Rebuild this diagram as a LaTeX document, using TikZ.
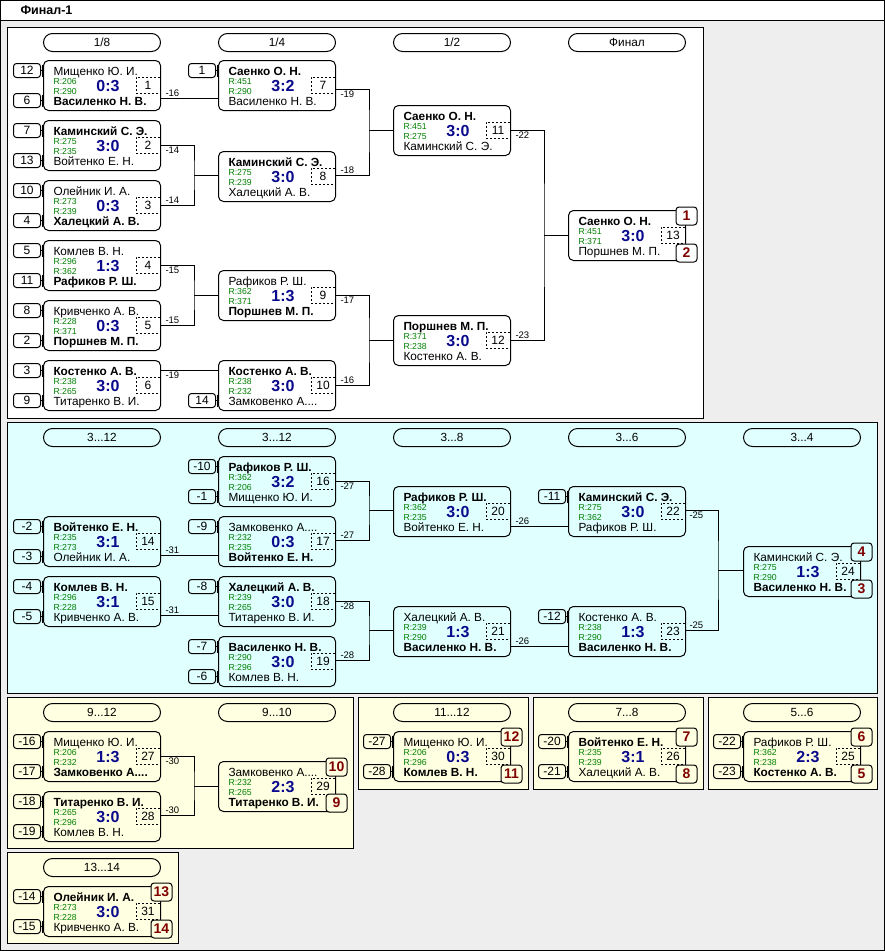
\documentclass[tikz,border=0pt]{standalone}
\usepackage{fontspec}
\setmainfont{Liberation Sans}
\definecolor{bgc}{RGB}{238,238,238}
\definecolor{cyanp}{RGB}{224,255,255}
\definecolor{yelp}{RGB}{255,255,225}
\definecolor{scorec}{RGB}{10,10,140}
\definecolor{rgreen}{RGB}{0,128,0}
\definecolor{placec}{RGB}{128,0,0}
\tikzset{
  mbox/.style={draw, rounded corners=5pt, minimum width=117pt, minimum height=50pt, anchor=north west, inner sep=0pt},
  nm/.style={anchor=base west, inner sep=0pt, font=\fontsize{11.8}{12}\selectfont},
  rv/.style={anchor=base west, inner sep=0pt, text=rgreen, font=\fontsize{8.7}{9}\selectfont},
  sc/.style={anchor=base, inner sep=0pt, text=scorec, font=\bfseries\fontsize{16}{16}\selectfont},
  mn/.style={draw, dash pattern=on 2pt off 2pt, line width=0.8pt, minimum width=24pt, minimum height=16pt, inner sep=0pt, font=\fontsize{12}{12}\selectfont},
  sdbox/.style={draw, rounded corners=3pt, anchor=north west, minimum width=27pt, minimum height=14pt, inner sep=0pt, font=\fontsize{12}{12}\selectfont},
  plbox/.style={draw, rounded corners=3pt, minimum width=21pt, minimum height=18pt, inner sep=0pt, text=placec, font=\bfseries\fontsize{14}{14}\selectfont},
  hdr/.style={draw, rounded corners=9pt, anchor=north west, minimum width=117pt, minimum height=18pt, inner sep=0pt, font=\fontsize{11.8}{12}\selectfont},
  lbl/.style={inner sep=0pt, font=\fontsize{9.5}{10}\selectfont},
  panel/.style={draw, line width=1pt},
}
\newcommand\mt[9]{%
\begin{scope}[shift={(#2,#3)}]
\node[mbox] (#1) at (0,0) {};
\node[nm] (#1-a) at (10,15.5) {#4};
\node[rv] (#1-r) at (10,24) {R:#5};
\node[rv] (#1-s) at (10,34) {R:#6};
\node[nm] (#1-b) at (10,45) {#8};
\node[sc] (#1-c) at (65,31) {#7};
\node[mn] (#1-n) at (105,25) {#9};
\end{scope}}
\newcommand\sd[4]{%
\node[sdbox] (#1) at (#2,#3) {#4};
\draw (#1.east) -- ++(1.5,0) ++(0,-6) -- ++(0,12);}
\newcommand\pc[5]{\node[plbox, fill=#5] (#1) at (#2,#3) {#4};}
\newcommand\hd[4]{\node[hdr] (#1) at (#2,#3) {#4};}
\newcommand\labA[4]{\node[lbl, anchor=south west] (#1) at (#2,#3) {#4};}
\newcommand\labB[4]{\node[lbl, anchor=north west] (#1) at (#2,#3) {#4};}
\begin{document}
\begin{tikzpicture}[x=1pt,y=-1pt,line width=1pt]
\useasboundingbox (0,0) rectangle (885,951);
\fill[bgc] (0,0) rectangle (885,951);
\fill[white] (0.5,0.5) rectangle (884.5,20);
\draw (0.5,0.5) rectangle (884.5,950.5);
\draw (0.5,20) -- (884.5,20);
\node[anchor=west, inner sep=0pt, font=\bfseries\fontsize{12.5}{13}\selectfont] (title) at (20,10) {Финал-1};
% panels
\filldraw[panel, fill=white] (7,27) rectangle (703,418);
\filldraw[panel, fill=cyanp] (7,422) rectangle (877,693);
\filldraw[panel, fill=yelp] (7,697) rectangle (353,848);
\filldraw[panel, fill=yelp] (358,697) rectangle (528,789);
\filldraw[panel, fill=yelp] (533,697) rectangle (703,789);
\filldraw[panel, fill=yelp] (708,697) rectangle (877,789);
\filldraw[panel, fill=yelp] (7,852) rectangle (178,943);
% headers
\hd{h1}{43}{33}{1/8}
\hd{h2}{218}{33}{1/4}
\hd{h3}{393}{33}{1/2}
\hd{h4}{568}{33}{Финал}
\hd{h5}{43}{428}{3...12}
\hd{h6}{218}{428}{3...12}
\hd{h7}{393}{428}{3...8}
\hd{h8}{568}{428}{3...6}
\hd{h9}{743}{428}{3...4}
\hd{h10}{43}{703}{9...12}
\hd{h11}{218}{703}{9...10}
\hd{h12}{393}{703}{11...12}
\hd{h13}{568}{703}{7...8}
\hd{h14}{743}{703}{5...6}
\hd{h15}{43}{858}{13...14}
% ===== Panel 1 =====
\mt{m1}{43}{60}{Мищенко Ю. И.}{206}{290}{0:3}{\bfseries Василенко Н. В.}{1}
\mt{m2}{43}{120}{\bfseries Каминский С. Э.}{275}{235}{3:0}{Войтенко Е. Н.}{2}
\mt{m3}{43}{180}{Олейник И. А.}{273}{239}{0:3}{\bfseries Халецкий А. В.}{3}
\mt{m4}{43}{240}{Комлев В. Н.}{296}{362}{1:3}{\bfseries Рафиков Р. Ш.}{4}
\mt{m5}{43}{300}{Кривченко А. В.}{228}{371}{0:3}{\bfseries Поршнев М. П.}{5}
\mt{m6}{43}{360}{\bfseries Костенко А. В.}{238}{265}{3:0}{Титаренко В. И.}{6}
\mt{m7}{218}{60}{\bfseries Саенко О. Н.}{451}{290}{3:2}{Василенко Н. В.}{7}
\mt{m8}{218}{151}{\bfseries Каминский С. Э.}{275}{239}{3:0}{Халецкий А. В.}{8}
\mt{m9}{218}{270}{Рафиков Р. Ш.}{362}{371}{1:3}{\bfseries Поршнев М. П.}{9}
\mt{m10}{218}{360}{\bfseries Костенко А. В.}{238}{232}{3:0}{Замковенко А....}{10}
\mt{m11}{393}{105}{\bfseries Саенко О. Н.}{451}{275}{3:0}{Каминский С. Э.}{11}
\mt{m12}{393}{315}{\bfseries Поршнев М. П.}{371}{238}{3:0}{Костенко А. В.}{12}
\mt{m13}{568}{210}{\bfseries Саенко О. Н.}{451}{371}{3:0}{Поршнев М. П.}{13}
\pc{p1}{686.5}{216}{1}{white}
\pc{p2}{686.5}{253}{2}{white}
\sd{s1}{13}{63}{12}\sd{s2}{13}{93}{6}
\sd{s3}{13}{123}{7}\sd{s4}{13}{153}{13}
\sd{s5}{13}{183}{10}\sd{s6}{13}{213}{4}
\sd{s7}{13}{243}{5}\sd{s8}{13}{273}{11}
\sd{s9}{13}{303}{8}\sd{s10}{13}{333}{2}
\sd{s11}{13}{363}{3}\sd{s12}{13}{393}{9}
\sd{s13}{188}{63}{1}
\sd{s14}{188}{393}{14}
% connectors panel 1
\coordinate (o1) at (160,98);
\draw (o1) -- (o1 -| m7.west);
\labA{l1}{165}{97}{-16}
\coordinate (o2) at (160,145); \coordinate (o3) at (160,205); \coordinate (j8) at (194,175);
\draw (o2) -| (j8) |- (o3); \draw (j8) -- (j8 -| m8.west);
\labB{l2}{165}{146}{-14} \labA{l3}{165}{204}{-14}
\coordinate (o4) at (160,265); \coordinate (o5) at (160,325); \coordinate (j9) at (194,295);
\draw (o4) -| (j9) |- (o5); \draw (j9) -- (j9 -| m9.west);
\labB{l4}{165}{266}{-15} \labA{l5}{165}{324}{-15}
\coordinate (o6) at (160,370);
\draw (o6) -- (o6 -| m10.west);
\labB{l6}{165}{371}{-19}
\coordinate (o7) at (335,89); \coordinate (o8) at (335,175); \coordinate (j11) at (369,130);
\draw (o7) -| (j11) |- (o8); \draw (j11) -- (j11 -| m11.west);
\labB{l7}{340}{90}{-19} \labA{l8}{340}{174}{-18}
\coordinate (o9) at (335,295); \coordinate (o10) at (335,385); \coordinate (j12) at (369,340);
\draw (o9) -| (j12) |- (o10); \draw (j12) -- (j12 -| m12.west);
\labB{l9}{340}{296}{-17} \labA{l10}{340}{384}{-16}
\coordinate (o11) at (510,130); \coordinate (o12) at (510,340); \coordinate (j13) at (544,235);
\draw (o11) -| (j13) |- (o12); \draw (j13) -- (j13 -| m13.west);
\labB{l11}{515}{131}{-22} \labA{l12}{515}{339}{-23}
% ===== Panel 2 =====
\mt{m14}{43}{516}{\bfseries Войтенко Е. Н.}{235}{273}{3:1}{Олейник И. А.}{14}
\mt{m15}{43}{576}{\bfseries Комлев В. Н.}{296}{228}{3:1}{Кривченко А. В.}{15}
\mt{m16}{218}{456}{\bfseries Рафиков Р. Ш.}{362}{206}{3:2}{Мищенко Ю. И.}{16}
\mt{m17}{218}{516}{Замковенко А....}{232}{235}{0:3}{\bfseries Войтенко Е. Н.}{17}
\mt{m18}{218}{576}{\bfseries Халецкий А. В.}{239}{265}{3:0}{Титаренко В. И.}{18}
\mt{m19}{218}{636}{\bfseries Василенко Н. В.}{290}{296}{3:0}{Комлев В. Н.}{19}
\mt{m20}{393}{486}{\bfseries Рафиков Р. Ш.}{362}{235}{3:0}{Войтенко Е. Н.}{20}
\mt{m21}{393}{606}{Халецкий А. В.}{239}{290}{1:3}{\bfseries Василенко Н. В.}{21}
\mt{m22}{568}{486}{\bfseries Каминский С. Э.}{275}{362}{3:0}{Рафиков Р. Ш.}{22}
\mt{m23}{568}{606}{Костенко А. В.}{238}{290}{1:3}{\bfseries Василенко Н. В.}{23}
\mt{m24}{743}{546}{Каминский С. Э.}{275}{290}{1:3}{\bfseries Василенко Н. В.}{24}
\pc{p4}{861.5}{552}{4}{cyanp}
\pc{p3}{861.5}{589}{3}{cyanp}
\sd{s21}{13}{519}{-2}\sd{s22}{13}{549}{-3}
\sd{s23}{13}{579}{-4}\sd{s24}{13}{609}{-5}
\sd{s25}{188}{459}{-10}\sd{s26}{188}{489}{-1}
\sd{s27}{188}{519}{-9}
\sd{s28}{188}{579}{-8}
\sd{s29}{188}{639}{-7}\sd{s30}{188}{669}{-6}
\sd{s31}{538}{489}{-11}
\sd{s32}{538}{609}{-12}
\coordinate (o14) at (160,555); \draw (o14) -- (o14 -| m17.west);
\labA{l14}{165}{554}{-31}
\coordinate (o15) at (160,615); \draw (o15) -- (o15 -| m18.west);
\labA{l15}{165}{614}{-31}
\coordinate (o16) at (335,481); \coordinate (o17) at (335,540); \coordinate (j20) at (369,510);
\draw (o16) -| (j20) |- (o17); \draw (j20) -- (j20 -| m20.west);
\labB{l16}{340}{482}{-27} \labA{l17}{340}{539}{-27}
\coordinate (o18) at (335,601); \coordinate (o19) at (335,660); \coordinate (j21) at (369,630);
\draw (o18) -| (j21) |- (o19); \draw (j21) -- (j21 -| m21.west);
\labB{l18}{340}{602}{-28} \labA{l19}{340}{659}{-28}
\coordinate (o20) at (510,526); \draw (o20) -- (o20 -| m22.west);
\labA{l20}{515}{525}{-26}
\coordinate (o21) at (510,646); \draw (o21) -- (o21 -| m23.west);
\labA{l21}{515}{645}{-26}
\coordinate (o22) at (685,510); \coordinate (o23) at (685,630); \coordinate (j24) at (718,570);
\draw (o22) -| (j24) |- (o23); \draw (j24) -- (j24 -| m24.west);
\labB{l22}{689}{511}{-25} \labA{l23}{689}{629}{-25}
% ===== Panel 3 =====
\mt{m27}{43}{731}{Мищенко Ю. И.}{206}{232}{1:3}{\bfseries Замковенко А....}{27}
\mt{m28}{43}{791}{\bfseries Титаренко В. И.}{265}{296}{3:0}{Комлев В. Н.}{28}
\mt{m29}{218}{761}{Замковенко А....}{232}{265}{2:3}{\bfseries Титаренко В. И.}{29}
\pc{p10}{336.5}{767}{10}{yelp}
\pc{p9}{336.5}{803}{9}{yelp}
\sd{s41}{13}{734}{-16}\sd{s42}{13}{764}{-17}
\sd{s43}{13}{794}{-18}\sd{s44}{13}{824}{-19}
\coordinate (o27) at (160,756); \coordinate (o28) at (160,815); \coordinate (j29) at (194,786);
\draw (o27) -| (j29) |- (o28); \draw (j29) -- (j29 -| m29.west);
\labB{l27}{165}{757}{-30} \labA{l28}{165}{814}{-30}
% ===== Panel 4 =====
\mt{m30}{393}{731}{Мищенко Ю. И.}{206}{296}{0:3}{\bfseries Комлев В. Н.}{30}
\pc{p12}{511.5}{737}{12}{yelp}
\pc{p11}{511.5}{774}{11}{yelp}
\sd{s51}{363}{734}{-27}\sd{s52}{363}{764}{-28}
% ===== Panel 5 =====
\mt{m26}{568}{731}{\bfseries Войтенко Е. Н.}{235}{239}{3:1}{Халецкий А. В.}{26}
\pc{p7}{686.5}{737}{7}{yelp}
\pc{p8}{686.5}{774}{8}{yelp}
\sd{s53}{538}{734}{-20}\sd{s54}{538}{764}{-21}
% ===== Panel 6 =====
\mt{m25}{743}{731}{Рафиков Р. Ш.}{362}{238}{2:3}{\bfseries Костенко А. В.}{25}
\pc{p6}{861.5}{737}{6}{yelp}
\pc{p5}{861.5}{774}{5}{yelp}
\sd{s55}{713}{734}{-22}\sd{s56}{713}{764}{-23}
% ===== Panel 7 =====
\mt{m31}{43}{886}{\bfseries Олейник И. А.}{273}{228}{3:0}{Кривченко А. В.}{31}
\pc{p13}{161.5}{892}{13}{yelp}
\pc{p14}{161.5}{929}{14}{yelp}
\sd{s57}{13}{889}{-14}\sd{s58}{13}{919}{-15}
\end{tikzpicture}
\end{document}
